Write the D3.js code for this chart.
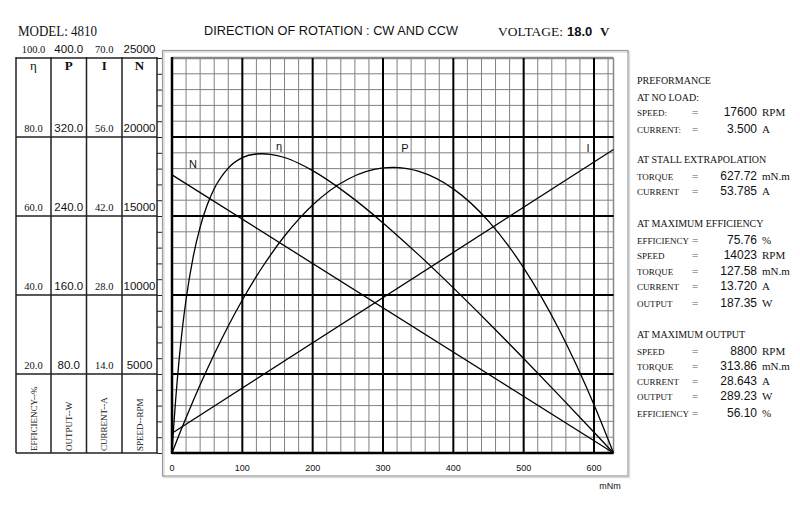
<!DOCTYPE html>
<html>
<head>
<meta charset="utf-8">
<script src="https://cdn.jsdelivr.net/npm/d3@7"></script>
<style>
  body { margin: 0; background: #fff; }
  svg { display: block; }
  .serif { font-family: "Liberation Serif", "DejaVu Serif", serif; }
  .sans { font-family: "Liberation Sans", Arial, sans-serif; }
</style>
</head>
<body>
<div id="chart"></div>
<script>
// Torque samples (mN.m)
var torque = [0, 1, 2.5, 5, 10, 15, 20, 30, 40, 50, 60, 80, 100, 120, 127.58, 140, 160, 180, 200, 250, 300, 313.86, 350, 400, 450, 500, 550, 600, 627.72];
var efficiency = [0, 2.86, 6.89, 13.02, 23.43, 31.89, 38.86, 49.55, 57.20, 62.78, 66.89, 72.13, 74.78, 75.70, 75.76, 75.62, 74.81, 73.36, 71.48, 65.47, 58.25, 56.10, 50.28, 41.80, 32.99, 23.92, 14.66, 5.26, 0];
var output = [0, 1.84, 4.59, 9.14, 18.14, 26.99, 35.69, 52.65, 69.03, 84.81, 100.01, 128.66, 154.95, 178.89, 187.35, 200.48, 219.73, 236.62, 251.17, 277.26, 288.67, 289.23, 285.40, 267.45, 234.81, 187.50, 125.51, 48.83, 0];

// Straight lines: speed and current
var lineTorque = [0, 627.72];
var speed = [17600, 0];
var current = [3.5, 53.785];

// Left table tick labels
var effTicks = ['100.0', '80.0', '60.0', '40.0', '20.0'];
var powerTicks = ['400.0', '320.0', '240.0', '160.0', '80.0'];
var currentTicks = ['70.0', '56.0', '42.0', '28.0', '14.0'];
var speedTicks = ['25000', '20000', '15000', '10000', '5000'];
var tickSteps = [100, 80, 60, 40, 20];
var columnSymbols = ['η', 'P', 'I', 'N'];
var columnUnits = ['EFFICIENCY--%', 'OUTPUT--W', 'CURRENT--A', 'SPEED--RPM'];

// Bottom axis
var torqueTicks = [0, 100, 200, 300, 400, 500, 600];

// Performance panel
var perfLabels = ['PREFORMANCE', 'AT NO LOAD:', 'SPEED:', 'CURRENT:', 'AT STALL EXTRAPOLATION', 'TORQUE', 'CURRENT',
  'AT MAXIMUM EFFICIENCY', 'EFFICIENCY', 'SPEED', 'TORQUE', 'CURRENT', 'OUTPUT',
  'AT MAXIMUM OUTPUT', 'SPEED', 'TORQUE', 'CURRENT', 'OUTPUT', 'EFFICIENCY'];
var perfValues = [null, null, '17600', '3.500', null, '627.72', '53.785',
  null, '75.76', '14023', '127.58', '13.720', '187.35',
  null, '8800', '313.86', '28.643', '289.23', '56.10'];
var perfUnits = [null, null, 'RPM', 'A', null, 'mN.m', 'A',
  null, '%', 'RPM', 'mN.m', 'A', 'W',
  null, 'RPM', 'mN.m', 'A', 'W', '%'];

var width = 800, height = 506;
var svg = d3.select('#chart').append('svg').attr('width', width).attr('height', height);

var plot = { left: 172, right: 613.5, top: 58, bottom: 453 };

var x = d3.scaleLinear().domain([0, 627.72]).range([plot.left, plot.right]);
var yEff = d3.scaleLinear().domain([0, 100]).range([plot.bottom, plot.top]);
var yPow = d3.scaleLinear().domain([0, 400]).range([plot.bottom, plot.top]);
var yCur = d3.scaleLinear().domain([0, 70]).range([plot.bottom, plot.top]);
var ySpd = d3.scaleLinear().domain([0, 25000]).range([plot.bottom, plot.top]);

// Header
svg.append('text').classed('serif', true).attr('x', 18).attr('y', 36)
  .attr('font-size', 14).attr('textLength', 79).attr('lengthAdjust', 'spacingAndGlyphs')
  .attr('fill', '#111').text('MODEL: 4810');
svg.append('text').classed('sans', true).attr('x', 204).attr('y', 35)
  .attr('font-size', 13).attr('textLength', 254).attr('lengthAdjust', 'spacingAndGlyphs')
  .attr('fill', '#111').text('DIRECTION OF ROTATION : CW AND CCW');
svg.append('text').classed('serif', true).attr('x', 498).attr('y', 36)
  .attr('font-size', 13).attr('textLength', 65).attr('lengthAdjust', 'spacingAndGlyphs')
  .attr('fill', '#111').text('VOLTAGE:');
svg.append('text').classed('sans', true).attr('x', 567).attr('y', 36)
  .attr('font-size', 13).attr('font-weight', 'bold').attr('fill', '#111').text('18.0');
svg.append('text').classed('serif', true).attr('x', 600).attr('y', 36)
  .attr('font-size', 13).attr('font-weight', 'bold').attr('fill', '#111').text('V');

// Gray frame around the plot
svg.append('rect').attr('x', 164).attr('y', 52).attr('width', 465.5).attr('height', 425.5)
  .attr('fill', 'none').attr('stroke', '#ddd').attr('stroke-width', 1.5);
svg.append('rect').attr('x', 162.5).attr('y', 50.5).attr('width', 465.5).attr('height', 425.5)
  .attr('fill', 'none').attr('stroke', '#999').attr('stroke-width', 1.2);

// Grid
var grid = svg.append('g').classed('grid', true);
var vMinor = d3.range(0, 627, 20).filter(function (d) { return d % 100 !== 0; });
var hMinor = d3.range(0, 25000, 1000).filter(function (d) { return d % 5000 !== 0; });
grid.selectAll('line.vminor').data(vMinor).join('line').classed('vminor', true)
  .attr('x1', x).attr('x2', x).attr('y1', plot.top).attr('y2', plot.bottom)
  .attr('stroke', '#808080').attr('stroke-width', 1);
grid.selectAll('line.hminor').data(hMinor).join('line').classed('hminor', true)
  .attr('y1', ySpd).attr('y2', ySpd).attr('x1', plot.left).attr('x2', plot.right)
  .attr('stroke', '#808080').attr('stroke-width', 1);
// plot top and right borders (gray)
grid.append('line').attr('x1', plot.left).attr('x2', plot.right).attr('y1', plot.top).attr('y2', plot.top)
  .attr('stroke', '#888').attr('stroke-width', 2.5);
grid.append('line').attr('x1', plot.right).attr('x2', plot.right).attr('y1', plot.top).attr('y2', plot.bottom)
  .attr('stroke', '#888').attr('stroke-width', 1.5);
// major lines
grid.selectAll('line.vmajor').data(torqueTicks.slice(1)).join('line').classed('vmajor', true)
  .attr('x1', x).attr('x2', x).attr('y1', plot.top).attr('y2', plot.bottom)
  .attr('stroke', '#000').attr('stroke-width', 2);
grid.selectAll('line.hmajor').data([5000, 10000, 15000, 20000]).join('line').classed('hmajor', true)
  .attr('y1', ySpd).attr('y2', ySpd).attr('x1', plot.left).attr('x2', plot.right)
  .attr('stroke', '#000').attr('stroke-width', 2);
grid.append('line').attr('x1', plot.left).attr('x2', plot.left).attr('y1', plot.top - 1).attr('y2', plot.bottom + 1)
  .attr('stroke', '#000').attr('stroke-width', 2.5);
grid.append('line').attr('x1', plot.left).attr('x2', plot.right).attr('y1', plot.bottom).attr('y2', plot.bottom)
  .attr('stroke', '#000').attr('stroke-width', 2.5);

// Bottom tick labels
svg.append('g').selectAll('text').data(torqueTicks).join('text').classed('sans', true)
  .attr('x', x).attr('y', 471).attr('text-anchor', 'middle').attr('font-size', 9)
  .attr('fill', '#111').text(function (d) { return d; });
svg.append('text').classed('sans', true).attr('x', 610).attr('y', 489).attr('text-anchor', 'middle')
  .attr('font-size', 9).attr('fill', '#111').text('mNm');

// Curves
var curves = svg.append('g').attr('fill', 'none').attr('stroke', '#000').attr('stroke-width', 1.3);
var effLine = d3.line().x(function (d, i) { return x(torque[i]); }).y(function (d) { return yEff(d); }).curve(d3.curveMonotoneX);
var powLine = d3.line().x(function (d, i) { return x(torque[i]); }).y(function (d) { return yPow(d); }).curve(d3.curveMonotoneX);
var spdLine = d3.line().x(function (d, i) { return x(lineTorque[i]); }).y(function (d) { return ySpd(d); });
var curLine = d3.line().x(function (d, i) { return x(lineTorque[i]); }).y(function (d) { return yCur(d); });
curves.append('path').attr('d', effLine(efficiency));
curves.append('path').attr('d', powLine(output));
curves.append('path').attr('d', spdLine(speed));
curves.append('path').attr('d', curLine(current));

// Curve labels
var curveLabels = [
  { t: 'N', x: 193, y: 168 },
  { t: 'η', x: 279, y: 150 },
  { t: 'P', x: 405, y: 152 },
  { t: 'I', x: 588, y: 152 }
];
svg.append('g').selectAll('text').data(curveLabels).join('text').classed('sans', true)
  .attr('x', function (d) { return d.x; }).attr('y', function (d) { return d.y; })
  .attr('text-anchor', 'middle').attr('font-size', 11).attr('fill', '#111')
  .text(function (d) { return d.t; });

// Left table
var colEdges = [16, 51, 86.5, 122, 157];
var table = svg.append('g').attr('stroke', '#222').attr('stroke-width', 1.5);
table.selectAll('line.col').data(colEdges).join('line').classed('col', true)
  .attr('x1', function (d) { return d; }).attr('x2', function (d) { return d; })
  .attr('y1', plot.top - 1).attr('y2', plot.bottom);
table.selectAll('line.row').data(tickSteps.concat([0])).join('line').classed('row', true)
  .attr('x1', colEdges[0]).attr('x2', colEdges[4])
  .attr('y1', function (d) { return yEff(d); }).attr('y2', function (d) { return yEff(d); });

// Tick marks along the table's right edge
svg.append('g').attr('transform', 'translate(' + colEdges[4] + ',0)')
  .call(d3.axisRight(yEff).tickValues(d3.range(0, 101, 4)).tickSize(5).tickFormat(''))
  .call(function (g) {
    g.select('.domain').remove();
    g.selectAll('.tick line').attr('stroke', '#222').attr('stroke-width', 1);
  });

var colTicks = [effTicks, powerTicks, currentTicks, speedTicks];
var colFonts = ['serif', 'sans', 'serif', 'sans'];
colTicks.forEach(function (labels, c) {
  var cx = (colEdges[c] + colEdges[c + 1]) / 2;
  svg.append('g').selectAll('text').data(labels).join('text').classed(colFonts[c], true)
    .attr('x', cx).attr('y', function (d, i) { return yEff(tickSteps[i]) - 5; })
    .attr('text-anchor', 'middle').attr('font-size', colFonts[c] === 'serif' ? 10.5 : 11.5)
    .attr('fill', '#111').text(function (d) { return d; });
  svg.append('text').classed('serif', true).attr('x', cx).attr('y', 70)
    .attr('text-anchor', 'middle').attr('font-size', 13)
    .attr('font-weight', c === 0 ? 'normal' : 'bold')
    .attr('fill', '#111').text(columnSymbols[c]);
  svg.append('text').classed('serif', true)
    .attr('transform', 'translate(' + (cx + 3) + ',451) rotate(-90)')
    .attr('font-size', 9).attr('fill', '#111').text(columnUnits[c]);
});

// Performance panel
var perfY = [84, 101, 116, 133, 163, 180, 195, 227, 244, 259, 275, 290, 307, 338, 355, 370, 385, 400, 417];
var panel = svg.append('g');
perfLabels.forEach(function (label, i) {
  var isHead = perfValues[i] === null;
  panel.append('text').classed('serif', true).attr('x', 637).attr('y', perfY[i])
    .attr('font-size', isHead ? 10 : 9).attr('fill', '#111').text(label);
  if (!isHead) {
    panel.append('text').classed('serif', true).attr('x', 695).attr('y', perfY[i])
      .attr('text-anchor', 'middle').attr('font-size', 11).attr('fill', '#555').text('=');
    panel.append('text').classed('sans', true).attr('x', 757).attr('y', perfY[i])
      .attr('text-anchor', 'end').attr('font-size', 12).attr('fill', '#111').text(perfValues[i]);
    panel.append('text').classed('serif', true).attr('x', 762).attr('y', perfY[i])
      .attr('font-size', 11).attr('fill', '#111').text(perfUnits[i]);
  }
});
</script>
</body>
</html>
